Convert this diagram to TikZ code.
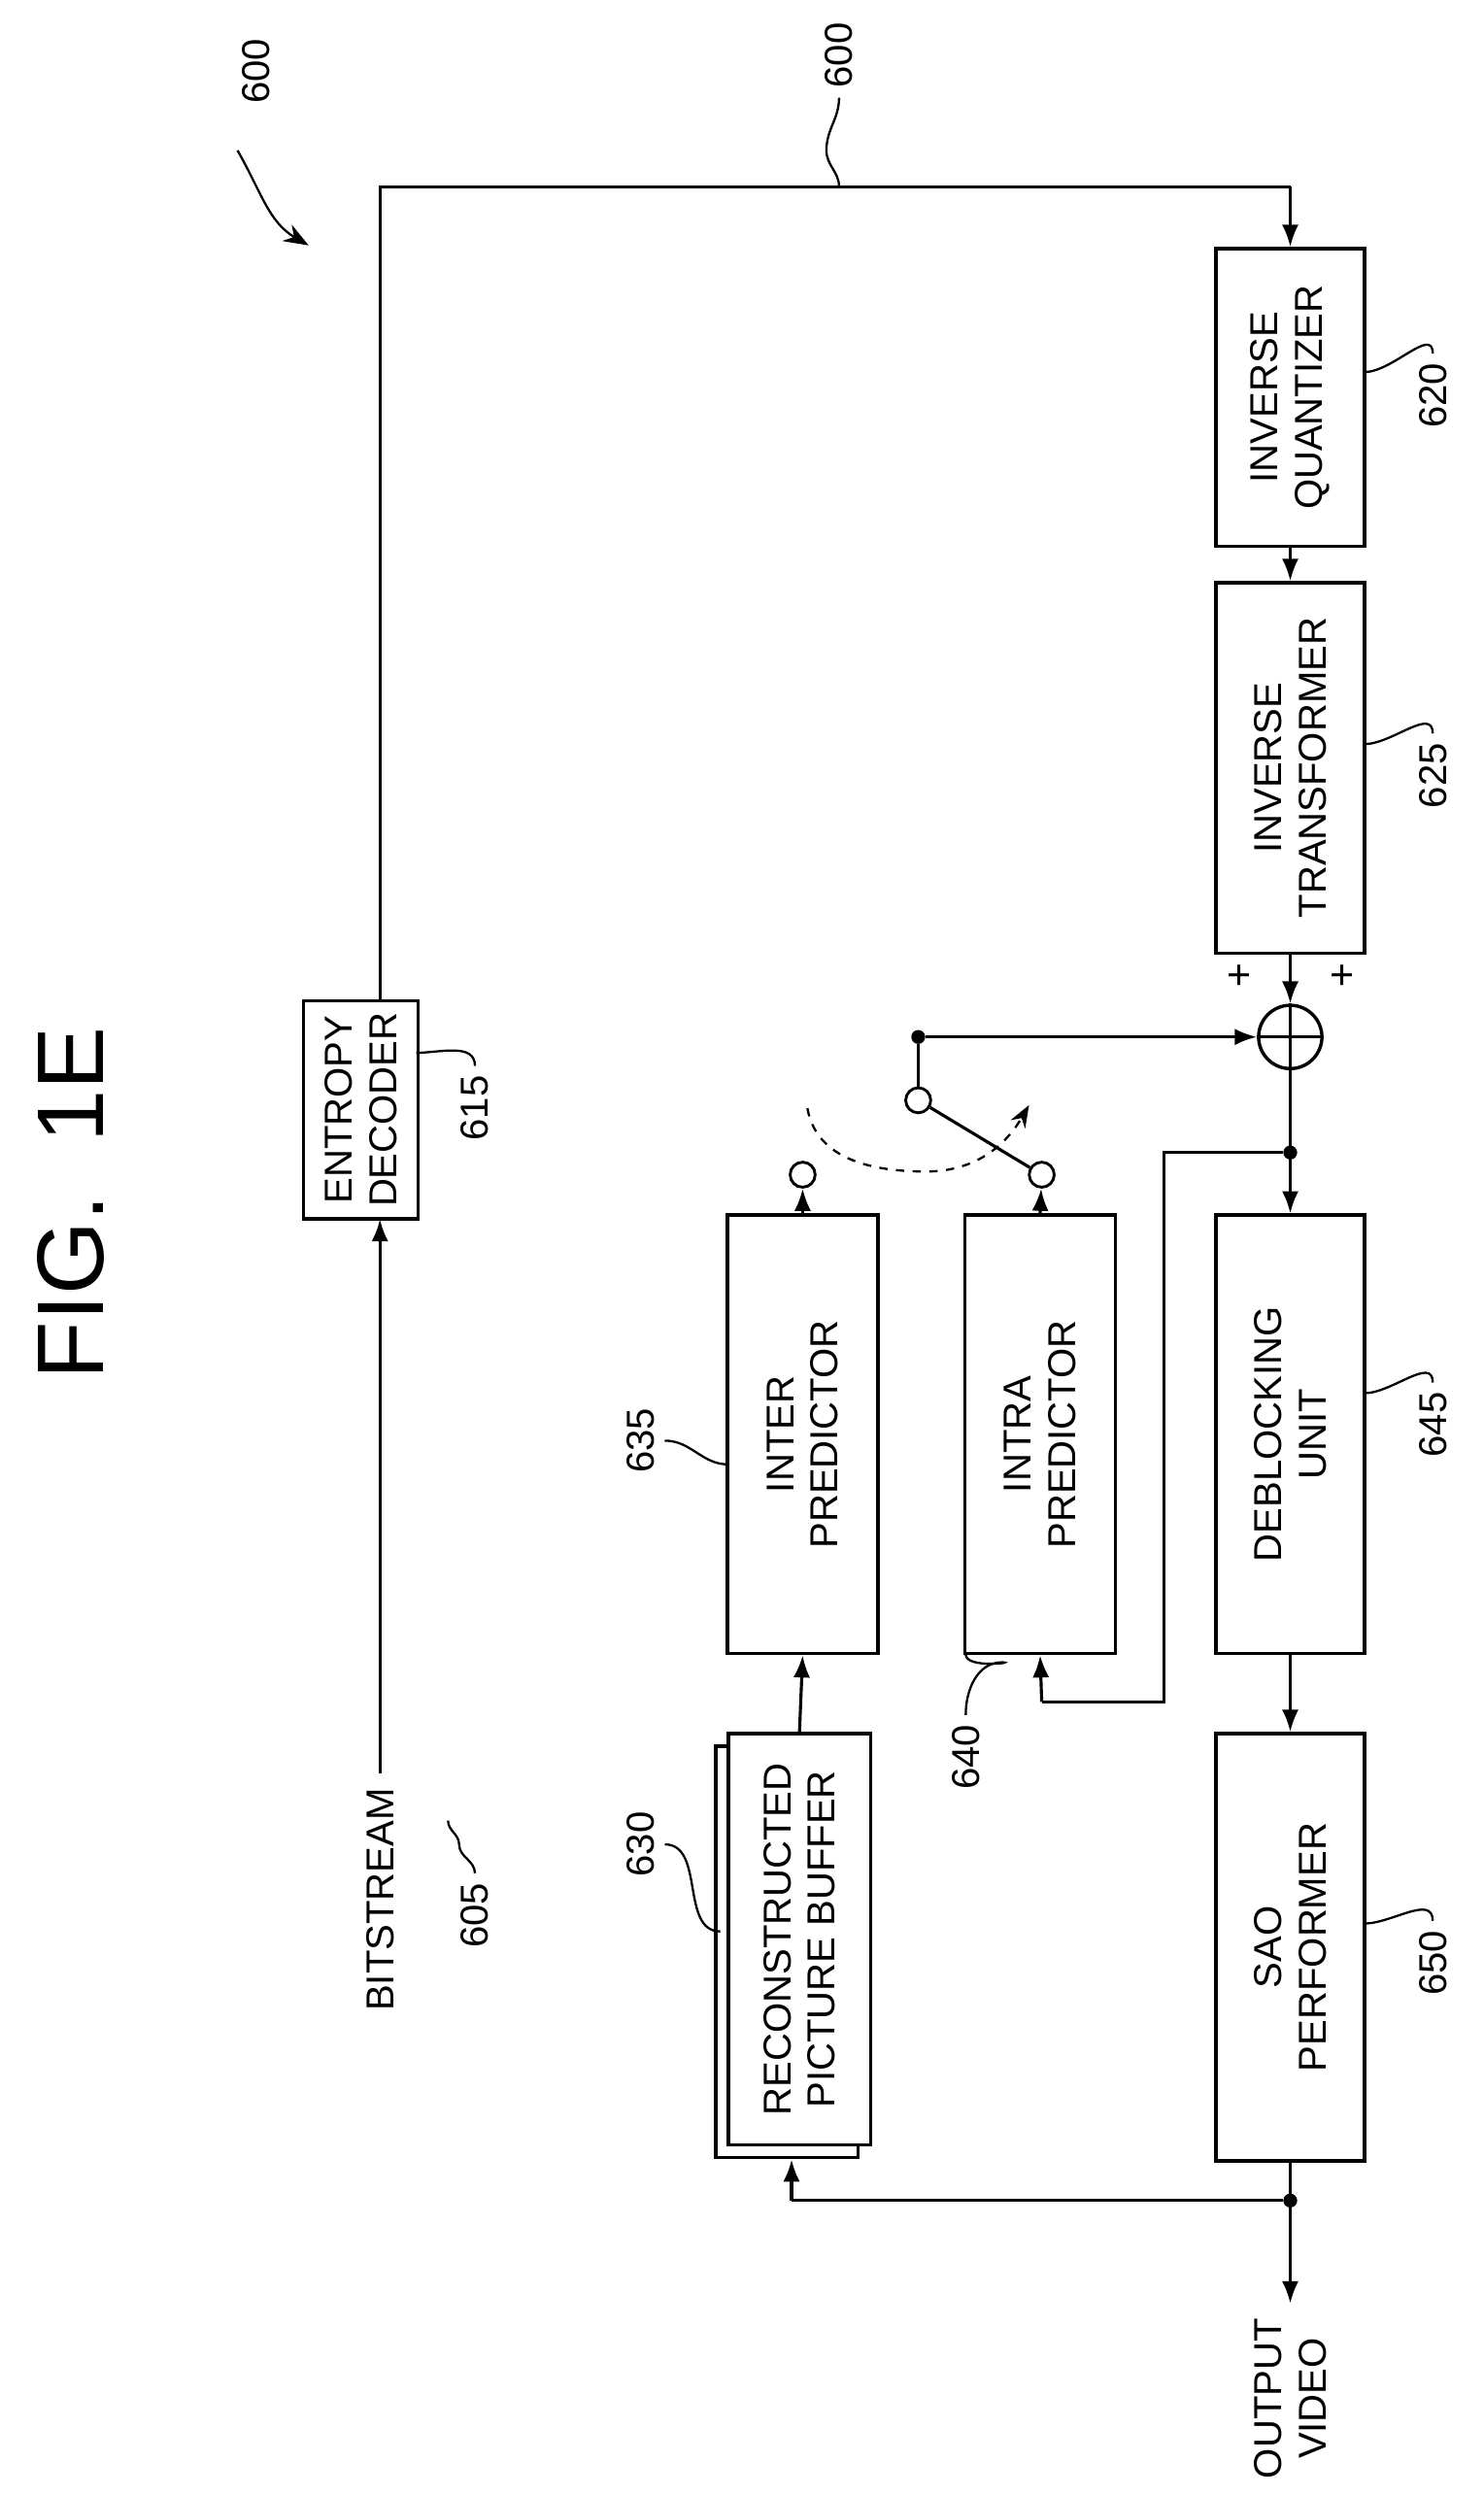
\documentclass[tikz,border=0pt]{standalone}
\usepackage{fontspec}
\setmainfont{Liberation Sans}
\usetikzlibrary{arrows.meta,positioning}
\tikzset{
  blk/.style  = {draw, rotate=90, line width=1.2pt, fill=white, align=center,
                 font=\fontsize{14}{16}\selectfont, inner sep=2pt},
  lbl/.style  = {rotate=90, font=\fontsize{14}{16}\selectfont},
  flow/.style = {line width=1.1pt, -{Latex[length=8pt,width=6pt]}},
  wire/.style = {line width=1.1pt},
  lead/.style = {line width=0.8pt},
  port/.style = {circle, draw, line width=1pt, fill=white, minimum size=9pt, inner sep=0pt},
  dot/.style  = {circle, fill, minimum size=5pt, inner sep=0pt}
}
\begin{document}
\begin{tikzpicture}[x=0.02cm, y=-0.02cm]
\useasboundingbox (0,0) rectangle (937,1576);

% title and figure number
\node[rotate=90, font=\fontsize{34}{38}\selectfont\rmfamily] (fig) at (45,760) {FIG.~~1E};
\node[lbl] (n600a) at (162,45) {600};
\draw[lead, -{Stealth[length=9pt]}] (150,95) to[out=-60,in=150] (195,155);

% blocks
\node[blk, minimum width=2.76cm, minimum height=1.45cm] (ent) at (228,701) {ENTROPY\\DECODER};
\node[blk, minimum width=3.76cm, minimum height=1.88cm] (iq) at (815,251) {INVERSE\\QUANTIZER};
\node[blk, minimum width=4.68cm, minimum height=1.88cm] (it) at (815,485) {INVERSE\\TRANSFORMER};
\node[blk, minimum width=5.54cm, minimum height=1.9cm] (inter) at (507,906) {INTER\\PREDICTOR};
\node[blk, minimum width=5.54cm, minimum height=1.9cm] (intra) at (657,906) {INTRA\\PREDICTOR};
\node[blk, minimum width=5.54cm, minimum height=1.88cm] (db) at (815,906) {DEBLOCKING\\UNIT};
\node[blk, minimum width=5.4cm, minimum height=1.88cm] (sao) at (815,1230) {SAO\\PERFORMER};
\node[blk, minimum width=5.2cm, minimum height=1.8cm] (bufb) at (497,1233) {};
\node[blk, minimum width=5.2cm, minimum height=1.8cm] (buf) at (505,1225) {RECONSTRUCTED\\PICTURE BUFFER};
\node[circle, draw, line width=1.2pt, minimum size=0.8cm, inner sep=0pt] (add) at (815,655) {};
\draw[wire] (add.north) -- (add.south) (add.west) -- (add.east);
\node[font=\fontsize{15}{17}\selectfont] (p1) at (783,617) {+};
\node[font=\fontsize{15}{17}\selectfont] (p2) at (848,617) {+};

% texts outside blocks
\node[lbl] (bits) at (240,1200) {BITSTREAM};
\node[lbl, align=center] (outv) at (815,1515) {OUTPUT\\VIDEO};

% reference numbers
\node[lbl] (n600b) at (530,35) {600};
\node[lbl] (n605) at (300,1210) {605};
\node[lbl] (n615) at (300,700) {615};
\node[lbl] (n620) at (905,250) {620};
\node[lbl] (n625) at (905,490) {625};
\node[lbl] (n630) at (405,1165) {630};
\node[lbl] (n635) at (405,910) {635};
\node[lbl] (n640) at (610,1110) {640};
\node[lbl] (n645) at (905,900) {645};
\node[lbl] (n650) at (905,1240) {650};

% switch
\node[dot] (sw) at (580,655) {};
\node[port] (swo) at (580,695) {};
\node[port] (pinter) at (507,742) {};
\node[port] (pintra) at (658,742) {};
\coordinate (top) at (240,118);
\coordinate (topr) at (815,118);
\coordinate (bs) at (240,1120);
\node[dot] (j1) at (815,728) {};
\node[dot] (j2) at (815,1390) {};
\coordinate (fb1) at (735,728);
\coordinate (fb2) at (735,1075);
\coordinate (fb3) at (658,1075);
\coordinate (ob) at (500,1390);
\coordinate (out) at (815,1455);

% connections
\draw[flow] (bs) -- (240,770);
\draw[wire] (240,632) -- (top) -- (topr);
\draw[flow] (topr) -- (iq.east);
\draw[flow] (iq.west) -- (it.east);
\draw[flow] (it.west) -- (add.north);
\draw[flow] (sw) -- (add.west);
\draw[wire] (sw) -- (swo);
\draw[wire] (swo) -- (pintra);
\draw[lead, dashed, -{Stealth[length=8pt]}] (510,700) to[out=-80,in=180] (585,740) to[out=0,in=-120] (650,698);
\draw[flow] (inter.east) -- (pinter);
\draw[flow] (intra.east) -- (pintra);
\draw[flow] (add.south) -- (db.east);
\draw[wire] (j1) -- (fb1) -- (fb2) -- (fb3);
\draw[flow] (fb3) -- (intra.west);
\draw[flow] (db.west) -- (sao.east);
\draw[flow] (sao.west) -- (out);
\draw[wire] (j2) -- (ob);
\draw[flow] (ob) -- (bufb.west -| ob);
\draw[flow] (buf.east) -- (inter.west);

% leaders
\draw[lead] (n600b.west) to[out=-90,in=90] (522,95) to[out=-90,in=90] (530,118);
\draw[lead] (n605.east) to[out=90,in=-90] (290,1165) to[out=90,in=-90] (283,1150);
\draw[lead] (n615.east) to[out=90,in=0] (263,665);
\draw[lead] (n620.east) to[out=90,in=0] (862,235);
\draw[lead] (n625.east) to[out=90,in=0] (862,470);
\draw[lead] (n630.south) to[out=0,in=180] (455,1220);
\draw[lead] (n635.south) to[out=0,in=180] (460,925);
\draw[lead] (n640.east) to[out=90,in=180] (633,1050) to[out=0,in=-90] (610,1045);
\draw[lead] (n645.east) to[out=90,in=0] (862,880);
\draw[lead] (n650.east) to[out=90,in=0] (862,1215);
\end{tikzpicture}
\end{document}
